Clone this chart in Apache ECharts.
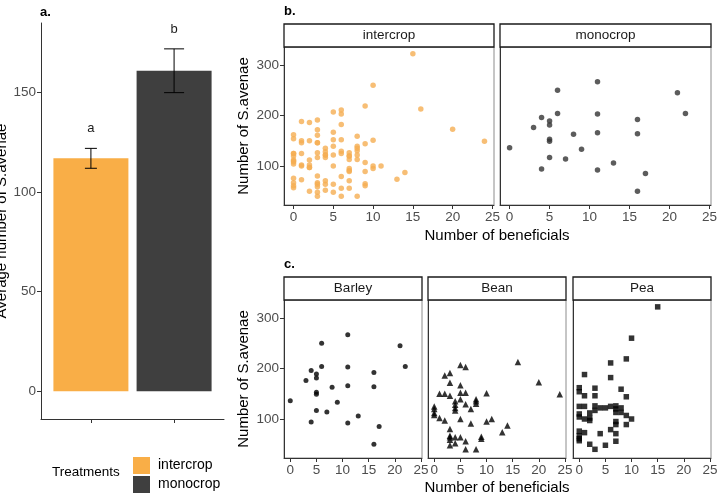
<!DOCTYPE html>
<html>
<head>
<meta charset="utf-8">
<script src="https://cdn.jsdelivr.net/npm/echarts@6/dist/echarts.min.js"></script>
<style>
  html, body { margin: 0; padding: 0; background: #fff; }
  #main { width: 718px; height: 499px; }
</style>
</head>
<body>
<div id="main"></div>
<script>
// panel a: mean aphids per treatment
var treatments = ['intercrop', 'monocrop'];
var barMeans = [117, 161];
var barErrors = [5, 11];
var barLetters = ['a', 'b'];
var barTicks = [0, 50, 100, 150];

// panels b and c: [beneficials, S.avenae]
var beanPoints = [
    [0, 125], [0, 120], [0, 112], [0, 108],
    [1, 150], [1, 102],
    [2, 186], [2, 150], [2, 97],
    [3, 191], [3, 172], [3, 146], [3, 80], [3, 67], [3, 64], [3, 59], [3, 48],
    [4, 135], [4, 128], [4, 122], [4, 117], [4, 64], [4, 52],
    [5, 207], [5, 167], [5, 152], [5, 139], [5, 100], [5, 64],
    [6, 203], [6, 152], [6, 129], [6, 56], [6, 40],
    [7, 120], [7, 91],
    [8, 139], [8, 135], [8, 130], [8, 40],
    [9, 65], [9, 61],
    [10, 151], [10, 95],
    [11, 100], [13, 74], [14, 87], [16, 213], [20, 173], [24, 149]
];
var peaPoints = [
    [0, 162], [0, 154], [0, 125], [0, 110], [0, 104], [0, 76], [0, 67], [0, 61], [0, 57],
    [1, 188], [1, 146], [1, 125], [1, 100], [1, 73],
    [2, 112], [2, 102], [2, 97], [2, 50],
    [3, 161], [3, 146], [3, 126], [3, 117], [3, 40],
    [4, 122], [4, 71],
    [5, 122], [5, 48],
    [6, 211], [6, 182], [6, 125], [6, 79],
    [7, 126], [7, 120], [7, 113], [7, 95], [7, 89], [7, 71], [7, 56],
    [8, 159], [8, 122], [8, 113],
    [9, 219], [9, 144], [9, 107], [9, 89],
    [10, 260], [10, 100],
    [15, 322]
];
var barleyPoints = [
    [0, 136], [3, 176], [4, 196], [4, 94], [5, 189], [5, 181], [5, 153], [5, 149], [5, 117],
    [6, 250], [6, 204], [7, 114], [8, 163], [9, 133], [11, 267], [11, 203], [11, 166], [11, 92],
    [13, 106], [16, 192], [16, 164], [16, 50], [17, 85], [21, 245], [22, 204]
];
var intercropPoints = beanPoints.concat(peaPoints);
var monocropPoints = barleyPoints;
var xTicks = [0, 5, 10, 15, 20, 25];
var yTicks = [100, 200, 300];

var FONT = "'Liberation Sans', Arial, sans-serif";
var tickLabel = {color: '#4d4d4d', fontSize: 13.5, fontFamily: FONT};

var scatterX = function (idx) {
    return {
        type: 'value', gridIndex: idx, min: -1.2, max: 25.2,
        splitLine: {show: false},
        axisLine: {show: true, onZero: false, lineStyle: {color: '#333', width: 1}},
        axisTick: {show: true, length: 4, lineStyle: {color: '#333'}, customValues: xTicks},
        axisLabel: Object.assign({margin: 5, customValues: xTicks}, tickLabel)
    };
};
var scatterY = function (idx, outer) {
    return {
        type: 'value', gridIndex: idx, min: 22.8, max: 335.6,
        splitLine: {show: false},
        name: outer ? 'Number of S.avenae' : '',
        nameLocation: 'middle', nameGap: 33,
        nameTextStyle: {color: '#000', fontSize: 15, fontFamily: FONT},
        axisLine: {show: true, onZero: false, lineStyle: {color: '#333', width: 1}},
        axisTick: {show: outer, length: 4, lineStyle: {color: '#333'}, customValues: yTicks},
        axisLabel: Object.assign({show: outer, margin: 5, customValues: yTicks}, tickLabel)
    };
};

var panelBox = {show: true, borderColor: '#8c8c8c', borderWidth: 1, backgroundColor: '#fff'};
var grids = [
    {left: 41, top: 23, width: 183, height: 396},
    Object.assign({left: 284, top: 47, width: 210, height: 158}, panelBox),
    Object.assign({left: 500, top: 47, width: 211, height: 158}, panelBox),
    Object.assign({left: 284, top: 300, width: 138, height: 158}, panelBox),
    Object.assign({left: 428, top: 300, width: 138, height: 158}, panelBox),
    Object.assign({left: 573, top: 300, width: 138, height: 158}, panelBox)
];
grids.forEach(function (g) { g.outerBoundsMode = 'none'; g.containLabel = false; });

var strips = [
    {text: 'intercrop', g: grids[1], top: 24},
    {text: 'monocrop', g: grids[2], top: 24},
    {text: 'Barley', g: grids[3], top: 277},
    {text: 'Bean', g: grids[4], top: 277},
    {text: 'Pea', g: grids[5], top: 277}
];
var graphics = [];
strips.forEach(function (s) {
    graphics.push({
        type: 'rect', z: 100,
        shape: {x: s.g.left, y: s.top, width: s.g.width, height: s.g.top - s.top},
        style: {fill: '#fff', stroke: '#1a1a1a', lineWidth: 1.3}
    });
    graphics.push({
        type: 'text', z: 101, x: s.g.left + s.g.width / 2, y: s.top + (s.g.top - s.top) / 2,
        style: {text: s.text, fill: '#1a1a1a', font: '13.5px ' + FONT, align: 'center', verticalAlign: 'middle'}
    });
});
[['a.', 40, 12], ['b.', 284, 11], ['c.', 284, 264]].forEach(function (t) {
    graphics.push({
        type: 'text', x: t[1], y: t[2],
        style: {text: t[0], fill: '#000', font: 'bold 13px ' + FONT, verticalAlign: 'middle'}
    });
});
[236, 488].forEach(function (y) {
    graphics.push({
        type: 'text', x: 497, y: y,
        style: {text: 'Number of beneficials', fill: '#000', font: '15px ' + FONT, align: 'center', verticalAlign: 'middle'}
    });
});
graphics.push({
    type: 'text', x: 52, y: 472,
    style: {text: 'Treatments', fill: '#000', font: '13.5px ' + FONT, verticalAlign: 'middle'}
});

var chart = echarts.init(document.getElementById('main'));
var option = {
    backgroundColor: '#fff',
    animation: false,
    textStyle: {fontFamily: FONT},
    grid: grids,
    legend: {
        data: treatments, left: 128, top: 452, orient: 'vertical', icon: 'rect',
        itemWidth: 17, itemHeight: 17, itemGap: 2, selectedMode: false,
        textStyle: {color: '#000', fontSize: 14, fontFamily: FONT, padding: [0, 0, 0, 3]}
    },
    xAxis: [
        {
            type: 'value', gridIndex: 0, min: 0.4, max: 2.6,
            splitLine: {show: false},
            axisLine: {show: true, onZero: false, lineStyle: {color: '#333'}},
            axisTick: {show: true, length: 4, lineStyle: {color: '#333'}, customValues: [1, 2]},
            axisLabel: {show: false}
        },
        scatterX(1), scatterX(2), scatterX(3), scatterX(4), scatterX(5)
    ],
    yAxis: [
        {
            type: 'value', gridIndex: 0, min: -14, max: 185,
            splitLine: {show: false},
            name: 'Average number of S.avenae',
            nameLocation: 'middle', nameGap: 28,
            nameTextStyle: {color: '#000', fontSize: 15, fontFamily: FONT},
            axisLine: {show: true, onZero: false, lineStyle: {color: '#333'}},
            axisTick: {show: true, length: 4, lineStyle: {color: '#333'}, customValues: barTicks},
            axisLabel: Object.assign({margin: 5, customValues: barTicks}, tickLabel)
        },
        scatterY(1, true), scatterY(2, false), scatterY(3, true), scatterY(4, false), scatterY(5, false)
    ],
    graphic: graphics,
    series: [
        {
            name: 'intercrop', type: 'bar', xAxisIndex: 0, yAxisIndex: 0,
            barWidth: 75, barGap: '-100%',
            itemStyle: {color: '#F9AE47'},
            data: [[1, barMeans[0]]]
        },
        {
            name: 'monocrop', type: 'bar', xAxisIndex: 0, yAxisIndex: 0,
            barWidth: 75, barGap: '-100%',
            itemStyle: {color: '#3f3f3f'},
            data: [[2, barMeans[1]]]
        },
        {
            type: 'custom', xAxisIndex: 0, yAxisIndex: 0, z: 10,
            data: barMeans.map(function (m, i) { return [i + 1, m, barErrors[i]]; }),
            renderItem: function (params, api) {
                var x = api.value(0), m = api.value(1), e = api.value(2);
                var hi = api.coord([x, m + e]), lo = api.coord([x, m - e]);
                var lab = api.coord([x, m + e + 10]);
                var half = params.dataIndex === 0 ? 6 : 10;
                var st = {stroke: '#000', lineWidth: 1};
                return {
                    type: 'group',
                    children: [
                        {type: 'line', shape: {x1: hi[0], y1: hi[1], x2: lo[0], y2: lo[1]}, style: st},
                        {type: 'line', shape: {x1: hi[0] - half, y1: hi[1], x2: hi[0] + half, y2: hi[1]}, style: st},
                        {type: 'line', shape: {x1: lo[0] - half, y1: lo[1], x2: lo[0] + half, y2: lo[1]}, style: st},
                        {type: 'text', x: lab[0], y: lab[1],
                            style: {text: barLetters[params.dataIndex], fill: '#1a1a1a', font: '13px ' + FONT,
                                align: 'center', verticalAlign: 'middle'}}
                    ]
                };
            }
        },
        {
            name: 'b intercrop', type: 'scatter', xAxisIndex: 1, yAxisIndex: 1,
            symbol: 'circle', symbolSize: 5.5, itemStyle: {color: '#F5AE52'}, data: intercropPoints
        },
        {
            name: 'b monocrop', type: 'scatter', xAxisIndex: 2, yAxisIndex: 2,
            symbol: 'circle', symbolSize: 5.5, itemStyle: {color: '#333'}, data: monocropPoints
        },
        {
            name: 'Barley', type: 'scatter', xAxisIndex: 3, yAxisIndex: 3,
            symbol: 'circle', symbolSize: 5, itemStyle: {color: '#000'}, data: barleyPoints
        },
        {
            name: 'Bean', type: 'scatter', xAxisIndex: 4, yAxisIndex: 4,
            symbol: 'triangle', symbolSize: 6.5, itemStyle: {color: '#000'}, data: beanPoints
        },
        {
            name: 'Pea', type: 'scatter', xAxisIndex: 5, yAxisIndex: 5,
            symbol: 'rect', symbolSize: 5.5, itemStyle: {color: '#000'}, data: peaPoints
        }
    ]
};
chart.setOption(option);
</script>
</body>
</html>
